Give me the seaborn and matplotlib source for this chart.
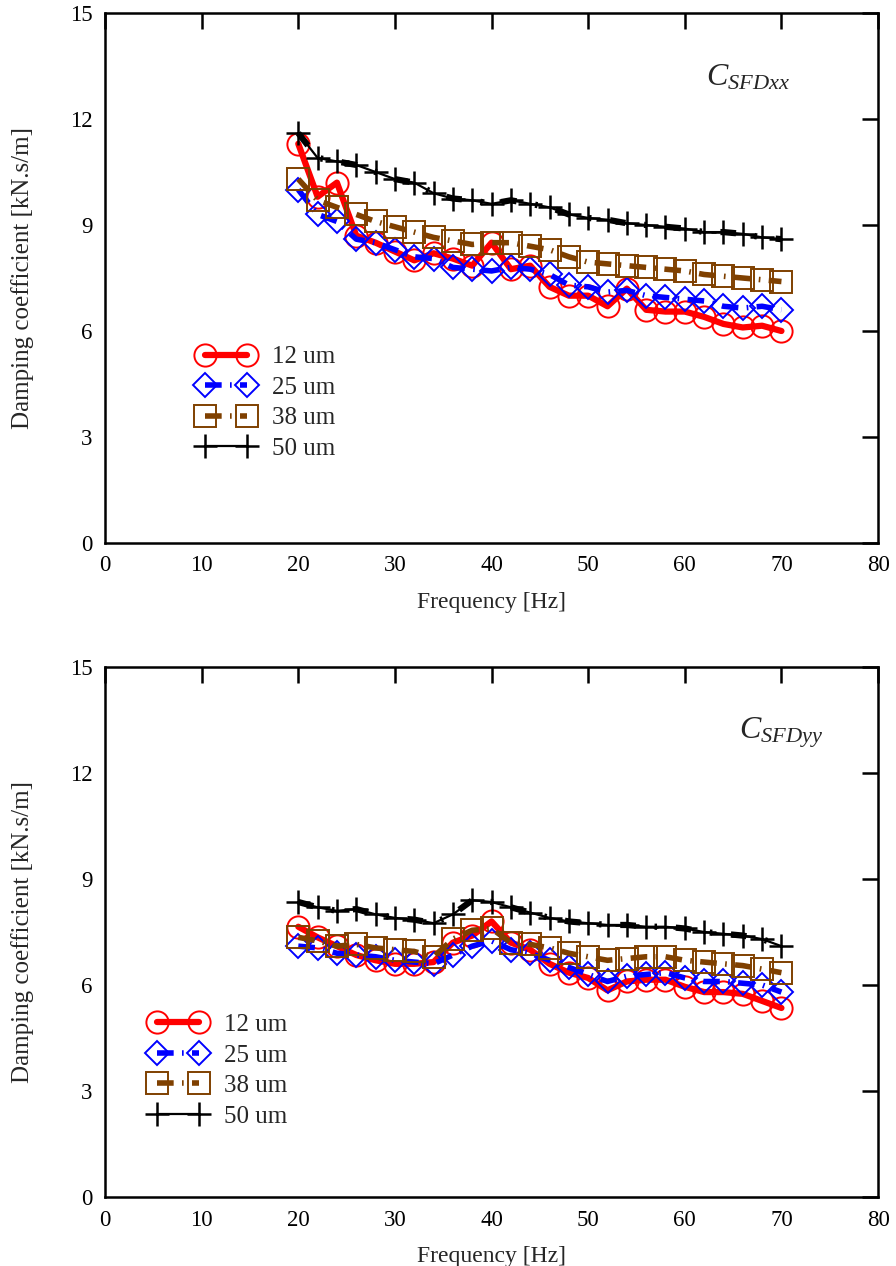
import numpy as np
import pandas as pd
import matplotlib
matplotlib.use("Agg")
import matplotlib.pyplot as plt
import seaborn as sns

freq = list(range(20, 72, 2))

xx_12 = [11.3, 9.8, 10.2, 8.7, 8.5, 8.25, 8.0, 8.2, 8.05, 7.85, 8.5, 7.75, 7.85,
         7.25, 7.0, 7.0, 6.7, 7.2, 6.6, 6.55, 6.55, 6.4, 6.2, 6.1, 6.15, 6.0]
xx_25 = [10.0, 9.3, 9.1, 8.6, 8.5, 8.3, 8.1, 8.05, 7.8, 7.75, 7.7, 7.8, 7.75,
         7.6, 7.3, 7.25, 7.1, 7.15, 7.0, 6.95, 6.9, 6.85, 6.7, 6.65, 6.7, 6.6]
xx_38 = [10.3, 9.7, 9.5, 9.3, 9.1, 8.95, 8.8, 8.65, 8.55, 8.45, 8.5, 8.5, 8.4,
         8.3, 8.1, 7.95, 7.9, 7.85, 7.8, 7.75, 7.7, 7.6, 7.55, 7.5, 7.45, 7.4]
xx_50 = [11.6, 10.9, 10.8, 10.7, 10.5, 10.3, 10.2, 9.9, 9.75, 9.7, 9.6, 9.7, 9.6,
         9.5, 9.3, 9.2, 9.15, 9.05, 9.0, 8.95, 8.9, 8.8, 8.8, 8.75, 8.65, 8.6]

yy_12 = [7.65, 7.35, 7.1, 6.85, 6.7, 6.6, 6.6, 6.65, 7.2, 7.4, 7.8, 7.2, 7.0,
         6.6, 6.35, 6.2, 5.85, 6.1, 6.15, 6.15, 5.95, 5.8, 5.8, 5.75, 5.55, 5.35]
yy_25 = [7.1, 7.05, 6.9, 6.85, 6.8, 6.7, 6.65, 6.6, 6.85, 7.1, 7.25, 7.0, 6.9,
         6.7, 6.5, 6.3, 6.1, 6.25, 6.3, 6.35, 6.2, 6.1, 6.1, 6.05, 6.0, 5.8]
yy_38 = [7.35, 7.25, 7.1, 7.15, 7.05, 7.0, 6.95, 6.8, 7.3, 7.55, 7.6, 7.2, 7.15,
         7.05, 6.9, 6.8, 6.7, 6.75, 6.8, 6.8, 6.7, 6.65, 6.6, 6.55, 6.45, 6.35]
yy_50 = [8.35, 8.2, 8.1, 8.15, 8.0, 7.9, 7.85, 7.75, 8.0, 8.4, 8.35, 8.2, 8.05,
         7.9, 7.8, 7.75, 7.7, 7.7, 7.65, 7.65, 7.6, 7.5, 7.45, 7.4, 7.3, 7.1]

labels = ["12 um", "25 um", "38 um", "50 um"]
titles = [r"$\mathit{C}_{\mathit{SFDxx}}$", r"$\mathit{C}_{\mathit{SFDyy}}$"]

sns.set_theme(style="white")
plt.rcParams["font.family"] = ["Liberation Serif", "DejaVu Serif"]
plt.rcParams["mathtext.fontset"] = "custom"
plt.rcParams["mathtext.it"] = "Liberation Serif:italic"
plt.rcParams["mathtext.rm"] = "Liberation Serif"

styles = [
    dict(color="#ff0000", marker="o", markersize=16, linewidth=4.5, linestyle="-",
         markerfacecolor="none", markeredgecolor="#ff0000", markeredgewidth=1.4),
    dict(color="#0000ff", marker="D", markersize=12.5, linewidth=4, linestyle=(0, (3, 1.5, 0.3, 1.5)),
         markerfacecolor="none", markeredgecolor="#0000ff", markeredgewidth=1.4),
    dict(color="#7f4000", marker="s", markersize=16, linewidth=4, linestyle=(0, (3, 1.5, 0.3, 1.5)),
         markerfacecolor="none", markeredgecolor="#7f4000", markeredgewidth=1.4),
    dict(color="#000000", marker="+", markersize=17, linewidth=1.6, linestyle="-",
         markerfacecolor="none", markeredgecolor="#000000", markeredgewidth=1.8),
]

fig = plt.figure(figsize=(8.96, 12.66), dpi=100)
ax1 = fig.add_axes([0.1172, 0.5711, 0.8628, 0.4186])
ax2 = fig.add_axes([0.1172, 0.0545, 0.8628, 0.4186])

datasets = [[xx_12, xx_25, xx_38, xx_50], [yy_12, yy_25, yy_38, yy_50]]
legend_pos = [(0.120, 0.372), (0.058, 0.346)]
title_pos = [(0.832, 0.877), (0.875, 0.877)]

for ax, series, title, lpos, tpos in zip([ax1, ax2], datasets, titles, legend_pos, title_pos):
    for vals, lab, st in zip(series, labels, styles):
        df = pd.DataFrame({"f": freq, "c": vals})
        sns.lineplot(data=df, x="f", y="c", ax=ax, label=lab, **st)
        if lab == "50 um":
            ax.plot(freq, vals, color="black", linewidth=4.5,
                    linestyle=(0, (2.5, 3, 0.4, 3)), zorder=2)
    h, l = ax.get_legend_handles_labels()
    ax.legend(h, l, loc="upper left", bbox_to_anchor=lpos, frameon=False,
              numpoints=2, handlelength=2.25, fontsize=18, labelspacing=0.32,
              handletextpad=0.72, borderaxespad=0, borderpad=0)
    ax.set_xlim(0, 80)
    ax.set_ylim(0, 15)
    ax.set_xticks(range(0, 81, 10))
    ax.set_yticks(range(0, 16, 3))
    ax.set_xlabel("Frequency [Hz]", fontsize=17, labelpad=11)
    ax.set_ylabel("Damping coefficient [kN.s/m]", fontsize=18, labelpad=26)
    ax.tick_params(direction="in", length=11.5, width=1.8, top=True, right=True,
                   labelsize=16.5, pad=9, colors="black")
    for sp in ax.spines.values():
        sp.set_linewidth(1.8)
        sp.set_color("black")
    ax.text(tpos[0], tpos[1], title, transform=ax.transAxes, fontsize=23,
            ha="center", va="center")

fig.savefig("out.png", dpi=100)
